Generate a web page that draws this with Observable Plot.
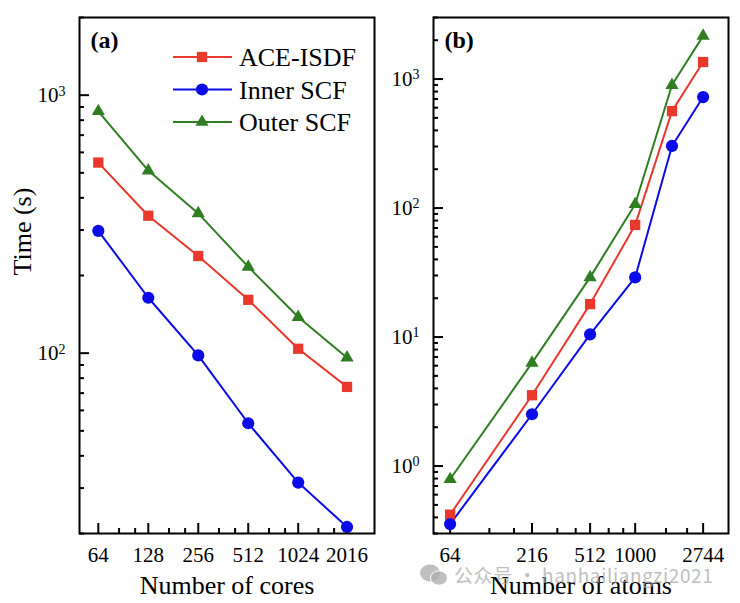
<!DOCTYPE html>
<html><head><meta charset="utf-8">
<script src="https://cdn.jsdelivr.net/npm/d3@7"></script>
<script src="https://cdn.jsdelivr.net/npm/@observablehq/plot@0.6"></script>
<style>
body{margin:0;background:#fff;}
#wrap{position:relative;width:740px;height:603px;overflow:hidden;background:#fff;}
#pa{position:absolute;left:0;top:0;}
#pb{position:absolute;left:380px;top:0;}
#legend{position:absolute;left:0;top:0;pointer-events:none;}
#wm{position:absolute;left:420px;top:561px;font-family:"Noto Sans CJK SC","Noto Sans",sans-serif;font-size:19px;color:rgba(170,170,170,0.75);letter-spacing:0.6px;white-space:nowrap;display:flex;align-items:center;gap:6px;}
</style></head>
<body><div id="wrap"><div id="pa"></div><div id="pb"></div><svg id="legend" width="380" height="160"></svg>
<div id="wm"><svg width="28" height="22" viewBox="0 0 28 22"><ellipse cx="10" cy="9" rx="10" ry="8.5" fill="rgba(175,175,175,0.8)"/><ellipse cx="19" cy="14" rx="8.5" ry="7.2" fill="rgba(175,175,175,0.8)" stroke="#fff" stroke-width="1"/></svg><span>公众号 · hanhailiangzi2021</span></div>
</div>
<script>
// ---- data ----
const seriesNames = ["ACE-ISDF", "Inner SCF", "Outer SCF"];
const seriesColors = ["#E8392C", "#0B0BE8", "#2F7F22"];
const seriesSymbols = ["square", "circle", "triangle"];
const seriesR = [5.8, 6.1, 4.9];

// panel (a): strong scaling vs number of cores
const cores = [64, 128, 256, 512, 1024, 2016];
const aceCores = [548, 341, 238, 161, 104, 74];
const innerCores = [298, 164, 98, 53.5, 31.5, 21.2];
const outerCores = [866, 510, 348, 216, 138, 96];

// panel (b): time vs number of atoms
const atoms = [64, 216, 512, 1000, 1728, 2744];
const aceAtoms = [0.42, 3.54, 18.0, 74, 564, 1355];
const innerAtoms = [0.355, 2.52, 10.5, 29, 303, 725];
const outerAtoms = [0.79, 6.3, 29, 107, 898, 2160];

// tick labels
const coreTicks = [64, 128, 256, 512, 1024, 2016];
const atomTicks = [64, 216, 512, 1000, 2744];
const timeTicksA = [100, 1000];
const timeTicksB = [1, 10, 100, 1000];

// ---- helpers ----
function thirds(majors) {
  const out = [];
  for (let i = 0; i < majors.length - 1; i++) {
    const a = majors[i], b = majors[i + 1];
    out.push(a + (b - a) / 3, a + 2 * (b - a) / 3);
  }
  return out;
}
function logMinors(lo, hi) {
  const out = [];
  for (let e = Math.floor(Math.log10(lo)); e <= Math.ceil(Math.log10(hi)); e++) {
    for (let k = 2; k <= 9; k++) {
      const v = k * Math.pow(10, e);
      if (v >= lo * 0.999 && v <= hi * 1.001) out.push(v);
    }
  }
  return out;
}
const font = "'Liberation Serif','Times New Roman',serif";

function panel({xs, series, xDomain, yDomain, xTicks, yTicks, width, marginLeft, marginRight, xLabel, yLabel, tag}) {
  const rows = [];
  series.forEach((vals, s) => vals.forEach((v, i) => rows.push({x: xs[i], y: v, s: seriesNames[s]})));
  const marks = [
    Plot.axisX(thirds(xTicks), {tickSize: -5, strokeWidth: 2, tickFormat: () => "", label: null}),
    Plot.axisX(xTicks, {tickSize: -10, strokeWidth: 2, tickFormat: () => "", label: null}),
    Plot.axisY(logMinors(yDomain[0], yDomain[1]), {tickSize: -5, strokeWidth: 2, tickFormat: () => "", label: null}),
    Plot.axisY(yTicks, {tickSize: -10, strokeWidth: 2, tickFormat: () => "", label: null}),
    Plot.text(xTicks, {x: d => d, text: d => String(d), frameAnchor: "bottom", dy: 22, lineAnchor: "middle", fontSize: 21}),
    Plot.text(yTicks, {y: d => d, text: d => "10|" + Math.round(Math.log10(d)), frameAnchor: "left", dx: -14, textAnchor: "end", lineAnchor: "middle", fontSize: 21}),
    Plot.line(rows, {x: "x", y: "y", z: "s", stroke: "s", strokeWidth: 2})
  ];
  seriesNames.forEach((name, s) => {
    marks.push(Plot.dot(rows.filter(d => d.s === name), {x: "x", y: "y", fill: seriesColors[s], symbol: () => seriesSymbols[s], r: seriesR[s]}));
  });
  marks.push(Plot.frame({stroke: "black", strokeWidth: 2}));
  marks.push(Plot.text([xLabel], {text: d => d, frameAnchor: "bottom", dy: 52, lineAnchor: "middle", fontSize: 26}));
  if (yLabel) marks.push(Plot.text([yLabel], {text: d => d, frameAnchor: "left", dx: -57, rotate: -90, fontSize: 26}));
  marks.push(Plot.text([tag], {text: d => d, frameAnchor: "top-left", dx: 11, dy: 23, lineAnchor: "middle", textAnchor: "start", fontSize: 24, fontWeight: "bold"}));
  const svg = Plot.plot({
    width, height: 603, marginLeft, marginRight, marginTop: 17, marginBottom: 70,
    x: {type: "log", domain: xDomain, label: null},
    y: {type: "log", domain: yDomain, label: null},
    color: {domain: seriesNames, range: seriesColors},
    style: {fontFamily: font, fontSize: "21px", color: "black", background: "white", overflow: "visible"},
    marks
  });
  // superscript exponents on y tick labels
  svg.querySelectorAll("text").forEach(t => {
    const s = t.textContent;
    if (/^10\|-?\d+$/.test(s)) {
      const exp = s.split("|")[1];
      t.textContent = "";
      const a = document.createElementNS("http://www.w3.org/2000/svg", "tspan");
      a.textContent = "10";
      const b = document.createElementNS("http://www.w3.org/2000/svg", "tspan");
      b.textContent = exp;
      b.setAttribute("dy", "-0.45em");
      b.setAttribute("font-size", "14");
      t.appendChild(a); t.appendChild(b);
    }
  });
  return svg;
}

document.getElementById("pa").appendChild(panel({
  xs: cores, series: [aceCores, innerCores, outerCores],
  xDomain: [49.3, 2950], yDomain: [20, 2000],
  xTicks: coreTicks, yTicks: timeTicksA,
  width: 380, marginLeft: 79, marginRight: 6,
  xLabel: "Number of cores", yLabel: "Time (s)", tag: "(a)"
}));
document.getElementById("pb").appendChild(panel({
  xs: atoms, series: [aceAtoms, innerAtoms, outerAtoms],
  xDomain: [50, 4000], yDomain: [0.3, 3000],
  xTicks: atomTicks, yTicks: timeTicksB,
  width: 360, marginLeft: 53, marginRight: 12,
  xLabel: "Number of atoms", yLabel: null, tag: "(b)"
}));

// legend for panel (a)
const lg = d3.select("#legend");
seriesNames.forEach((name, s) => {
  const y = 57 + s * 32.5;
  const g = lg.append("g");
  g.append("line").attr("x1", 173).attr("x2", 232).attr("y1", y).attr("y2", y)
    .attr("stroke", seriesColors[s]).attr("stroke-width", 2);
  const sym = {square: d3.symbolSquare, circle: d3.symbolCircle, triangle: d3.symbolTriangle}[seriesSymbols[s]];
  g.append("path").attr("transform", `translate(202,${y})`)
    .attr("d", d3.symbol(sym, Math.PI * seriesR[s] * seriesR[s])())
    .attr("fill", seriesColors[s]);
  g.append("text").attr("x", 239).attr("y", y).attr("dy", "0.35em")
    .attr("font-family", font).attr("font-size", 26).text(name);
});
</script></body></html>
